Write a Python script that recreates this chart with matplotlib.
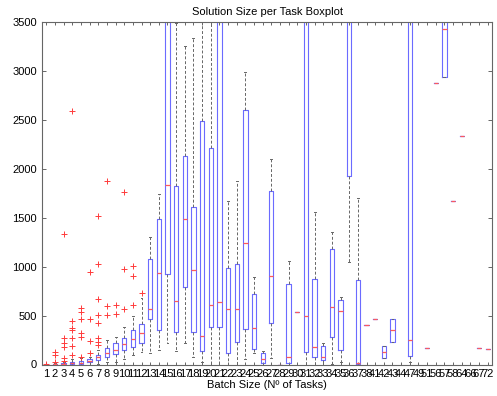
import matplotlib
matplotlib.use("Agg")
import matplotlib.pyplot as plt

plt.rcParams['font.family'] = ['Liberation Sans', 'DejaVu Sans']

labels = [str(i) for i in range(1, 39)] + ['41', '42', '43', '44', '47', '49', '51',
                                           '56', '57', '58', '64', '66', '67', '72']

q1 = [0, 0, 2, 5, 6, 22, 46, 80, 107, 148, 182, 217, 463, 353, 923, 336, 790, 336, 141, 387,
      381, 115, 233, 360, 155, 18, 428, 0, 18, 534, 131, 80, 46, 280, 150, 1924, 5, 406, 468, 68,
      235, 4000, 85, 4000, 164, 2873, 2934, 1675, 2330, 4000, 164, 160]
med = [0, 2, 6, 14, 16, 35, 74, 121, 148, 210, 258, 319, 565, 933, 1837, 653, 1486, 964, 295, 606,
       643, 571, 565, 1241, 370, 53, 903, 0, 80, 534, 500, 176, 80, 585, 542, 4000, 15, 406, 468, 126,
       355, 4000, 253, 4000, 164, 2873, 3426, 1675, 2330, 4000, 164, 160]
q3 = [3, 6, 12, 28, 32, 53, 97, 166, 217, 268, 353, 411, 1080, 1486, 4500, 1820, 2130, 1609, 2485, 2213,
      4200, 985, 1029, 2605, 722, 115, 1773, 0, 821, 534, 4500, 875, 192, 1182, 655, 6000, 867, 406, 468, 187,
      468, 4000, 5000, 4000, 164, 2873, 5000, 1675, 2330, 4000, 164, 160]
wlo = [0, 0, 0, 0, 0, 0, 5, 29, 29, 53, 97, 131, 115, 148, 220, 138, 217, 80, 29, 0,
       0, 0, 0, 53, 115, 0, 63, 0, 0, 534, 0, 0, 0, 5, 30, 1044, 0, 406, 468, 68,
       235, 4000, 24, 4000, 164, 2873, 2934, 1675, 2330, 4000, 164, 160]
whi = [5, 12, 25, 55, 65, 74, 148, 250, 285, 381, 496, 680, 1302, 1745, 7000, 3490, 3250, 3338, 3600, 3600,
       8000, 1667, 1871, 2990, 899, 140, 2100, 0, 1056, 534, 8000, 1561, 223, 1359, 686, 8000, 1702, 406, 468, 187,
       468, 4000, 9000, 4000, 164, 2873, 6000, 1675, 2330, 4000, 164, 160]
fliers = [[10], [30, 97, 131], [36, 63, 182, 217, 268, 1332], [100, 190, 274, 355, 370, 448, 2592],
          [74, 285, 319, 463, 541, 575], [121, 244, 463, 944], [200, 234, 268, 422, 507, 667, 1029, 1513],
          [507, 599, 1878], [517, 609], [565, 981, 1762], [609, 906, 1005], [729]] + [[] for _ in range(40)]

stats = []
for i in range(len(labels)):
    stats.append(dict(label=labels[i], med=med[i], q1=q1[i], q3=q3[i],
                      whislo=wlo[i], whishi=whi[i], fliers=fliers[i]))

fig = plt.figure(figsize=(4.97, 3.96), dpi=100)
ax = fig.add_axes([42 / 497, 1 - 364.5 / 396, 450 / 497, (364.5 - 22) / 396])

ax.bxp(stats, positions=range(1, len(labels) + 1), widths=0.5, capwidths=0.22,
       boxprops=dict(color='#6b6bff', linewidth=0.8),
       medianprops=dict(color='#ff5a5a', linewidth=0.9, zorder=3),
       whiskerprops=dict(color='#666666', linewidth=0.7, linestyle=(0, (3, 2))),
       capprops=dict(color='#666666', linewidth=0.7),
       flierprops=dict(marker='+', markeredgecolor='#ff3b3b', markersize=5, markeredgewidth=0.7,
                       linestyle='none'))

ax.set_xlim(0.5, len(labels) + 0.5)
ax.set_ylim(0, 3500)
ax.set_yticks(range(0, 3501, 500))
ax.set_xticks(range(1, len(labels) + 1))
ax.set_xticklabels(labels)
for s in ax.spines.values():
    s.set_color('#666666')
    s.set_linewidth(0.8)
ax.tick_params(axis='both', direction='in', labelsize=8, colors='#666666', labelcolor='black',
               top=True, right=True, length=3, width=0.7)
ax.tick_params(axis='x', pad=3, length=2)
ax.set_title('Solution Size per Task Boxplot', fontsize=8, pad=5)
ax.set_xlabel('Batch Size (Nº of Tasks)', fontsize=8, labelpad=1)

fig.savefig('out.png', dpi=100)
